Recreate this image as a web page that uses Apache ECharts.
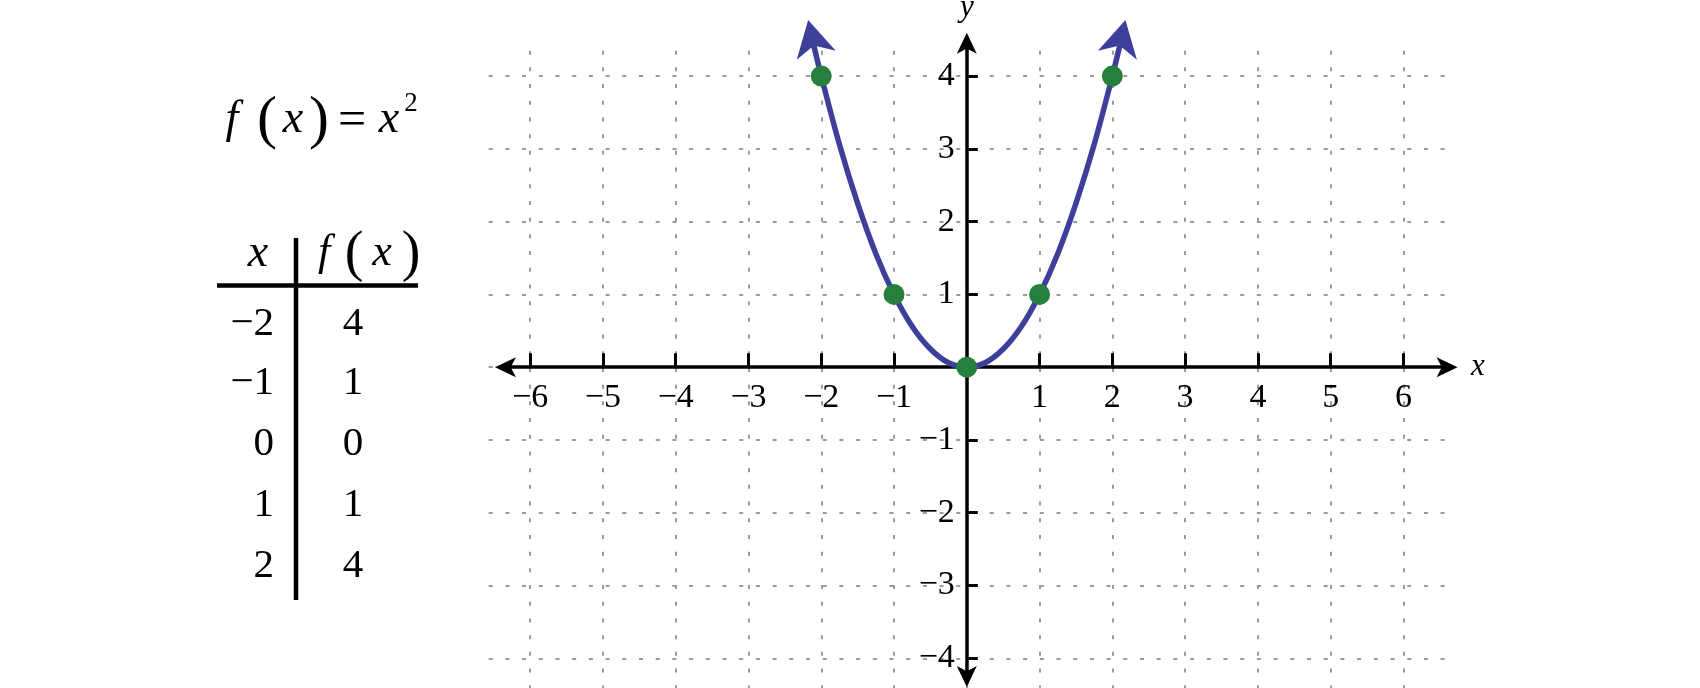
<!DOCTYPE html>
<html><head><meta charset="utf-8">
<script src="https://cdn.jsdelivr.net/npm/echarts@6/dist/echarts.min.js"></script>
<style>html,body{margin:0;padding:0;background:#fff}#c{width:1700px;height:688px}</style>
</head><body><div id="c"></div>
<script>
// ---- data ----
const pointX = [-2, -1, 0, 1, 2];
const pointY = [4, 1, 0, 1, 4];
const curveX = [-2.15, -2, -1.75, -1.5, -1.25, -1, -0.75, -0.5, -0.25, 0, 0.25, 0.5, 0.75, 1, 1.25, 1.5, 1.75, 2, 2.15];
const curveY = [4.62, 4, 3.06, 2.25, 1.56, 1, 0.56, 0.25, 0.06, 0, 0.06, 0.25, 0.56, 1, 1.56, 2.25, 3.06, 4, 4.62];
// arrow tips at the curve ends and a point on the curve behind each tip (gives the direction)
const arrowTipX = [-2.18, 2.18];
const arrowTipY = [4.77, 4.77];
const arrowBackX = [-2.07, 2.07];
const arrowBackY = [4.29, 4.29];
const gridXVals = [-6, -5, -4, -3, -2, -1, 0, 1, 2, 3, 4, 5, 6];
const gridYVals = [-4, -3, -2, -1, 0, 1, 2, 3, 4];
const xTicks = [-6, -5, -4, -3, -2, -1, 1, 2, 3, 4, 5, 6];
const xTickLabels = ['\u22126', '\u22125', '\u22124', '\u22123', '\u22122', '\u22121', '1', '2', '3', '4', '5', '6'];
const yTicks = [-4, -3, -2, -1, 1, 2, 3, 4];
const yTickLabels = ['\u22124', '\u22123', '\u22122', '\u22121', '1', '2', '3', '4'];
const tableX = ['\u22122', '\u22121', '0', '1', '2'];
const tableF = ['4', '1', '0', '1', '4'];

// ---- layout ----
const U = 72.77, CX = 966.8, CY = 367.2;
const AX = [-6.34, 6.60], AY = [-4.25, 4.45];
function gridFor(x0, x1, y0, y1) {
  return { left: CX + x0 * U, top: CY - y1 * U, width: (x1 - x0) * U, height: (y1 - y0) * U, containLabel: false, outerBoundsMode: 'none' };
}
const SERIF = 'Liberation Serif, DejaVu Serif';
const BLUE = '#3d3f9b';
const GREEN = '#25803d';

function ttl(t, x, y, size, italic, align) {
  return { text: t, left: x, top: y, padding: 0, itemGap: 0, textAlign: align || 'center', textVerticalAlign: 'middle', z: 10,
    textStyle: { color: '#000', fontFamily: SERIF, fontSize: size, fontStyle: italic ? 'italic' : 'normal', fontWeight: 'normal' } };
}
const titles = [
  // formula f(x) = x^2
  ttl('f', 232, 120, 46, true),
  ttl('(', 267, 121, 60, false),
  ttl('x', 293, 120, 46, true),
  ttl(')', 319, 121, 60, false),
  ttl('=', 352, 122, 50, false),
  ttl('x', 389, 120, 46, true),
  ttl('2', 411, 104, 27, false),
  // table header
  ttl('x', 258, 254, 46, true),
  ttl('f', 324, 253, 44, true),
  ttl('(', 354, 255, 56, false),
  ttl('x', 382, 253, 44, true),
  ttl(')', 411, 255, 56, false)
];
const rowY = [324, 383, 444, 505, 566];
tableX.forEach((t, i) => titles.push(ttl(t, 274, rowY[i], 41, false, 'right')));
tableF.forEach((t, i) => titles.push(ttl(t, 353, rowY[i], 41, false, 'center')));

const graphics = [
  { type: 'line', z: 10, silent: true, shape: { x1: 217, y1: 285.5, x2: 418, y2: 285.5 }, style: { stroke: '#000', lineWidth: 4.5 } },
  { type: 'line', z: 10, silent: true, shape: { x1: 296, y1: 238, x2: 296, y2: 600 }, style: { stroke: '#000', lineWidth: 4.5 } }
];

const dotted = { show: true, lineStyle: { color: '#9a9a9a', width: 2, type: [4, 12.7] } };

function renderArrow(params, api) {
  const tip = api.coord([api.value(0), api.value(1)]);
  const back = api.coord([api.value(2), api.value(3)]);
  let dx = tip[0] - back[0], dy = tip[1] - back[1];
  const len = Math.hypot(dx, dy); dx /= len; dy /= len;
  const nx = -dy, ny = dx;
  const L = 36, W = 20, N = 26;
  const bx = tip[0] - L * dx, by = tip[1] - L * dy;
  return { type: 'polygon', silent: true,
    shape: { points: [tip, [bx + W * nx, by + W * ny], [tip[0] - N * dx, tip[1] - N * dy], [bx - W * nx, by - W * ny]] },
    style: { fill: BLUE } };
}

const axisLineStyle = { onZero: false, symbol: ['arrow', 'arrow'], symbolSize: [15, 21], symbolOffset: [-10.5, 10.5],
  lineStyle: { color: '#000', width: 3.5 } };

const chart = echarts.init(document.getElementById('c'), null, { renderer: 'canvas' });
chart.setOption({
  animation: false,
  backgroundColor: '#fff',
  title: titles,
  grid: [gridFor(-6.57, 6.57, -4.42, 4.35), gridFor(AX[0], AX[1], AY[0], AY[1])],
  xAxis: [
    { gridIndex: 0, type: 'value', min: -6.57, max: 6.57, axisLine: { show: false },
      axisTick: { show: false, customValues: gridXVals }, axisLabel: { show: false }, splitLine: dotted },
    { gridIndex: 1, type: 'value', min: AX[0], max: AX[1], position: 'bottom', offset: -(0 - AY[0]) * U,
      axisLine: axisLineStyle,
      axisTick: { inside: true, length: 14, customValues: xTicks, lineStyle: { color: '#000', width: 3 } },
      axisLabel: { customValues: xTicks, margin: 14, color: '#000', fontFamily: SERIF, fontSize: 34,
        formatter: v => xTickLabels[xTicks.indexOf(Math.round(v))] },
      splitLine: { show: false },
      name: 'x', nameLocation: 'end', nameGap: 24,
      nameTextStyle: { color: '#000', fontFamily: SERIF, fontStyle: 'italic', fontSize: 31, padding: [12, 0, 0, 0] } }
  ],
  yAxis: [
    { gridIndex: 0, type: 'value', min: -4.42, max: 4.35, axisLine: { show: false },
      axisTick: { show: false, customValues: gridYVals }, axisLabel: { show: false }, splitLine: dotted },
    { gridIndex: 1, type: 'value', min: AY[0], max: AY[1], position: 'left', offset: -(0 - AX[0]) * U,
      axisLine: axisLineStyle,
      axisTick: { inside: true, length: 11, customValues: yTicks, lineStyle: { color: '#000', width: 3 } },
      axisLabel: { customValues: yTicks, margin: 12, color: '#000', fontFamily: SERIF, fontSize: 34,
        formatter: v => yTickLabels[yTicks.indexOf(Math.round(v))] },
      splitLine: { show: false },
      name: 'y', nameLocation: 'end', nameGap: 20,
      nameTextStyle: { color: '#000', fontFamily: SERIF, fontStyle: 'italic', fontSize: 31 } }
  ],
  graphic: graphics,
  series: [
    { type: 'line', xAxisIndex: 1, yAxisIndex: 1, smooth: 0.3, symbol: 'none', silent: true, z: 3, clip: false,
      data: curveX.map((x, i) => [x, curveY[i]]), lineStyle: { color: BLUE, width: 5.5 } },
    { type: 'custom', xAxisIndex: 1, yAxisIndex: 1, silent: true, z: 4, clip: false,
      encode: { x: 0, y: 1 },
      data: arrowTipX.map((x, i) => [x, arrowTipY[i], arrowBackX[i], arrowBackY[i]]),
      renderItem: renderArrow },
    { type: 'scatter', xAxisIndex: 1, yAxisIndex: 1, symbol: 'circle', symbolSize: 21, silent: true, z: 5, clip: false,
      data: pointX.map((x, i) => [x, pointY[i]]), itemStyle: { color: GREEN, opacity: 1 } }
  ]
});
</script></body></html>
